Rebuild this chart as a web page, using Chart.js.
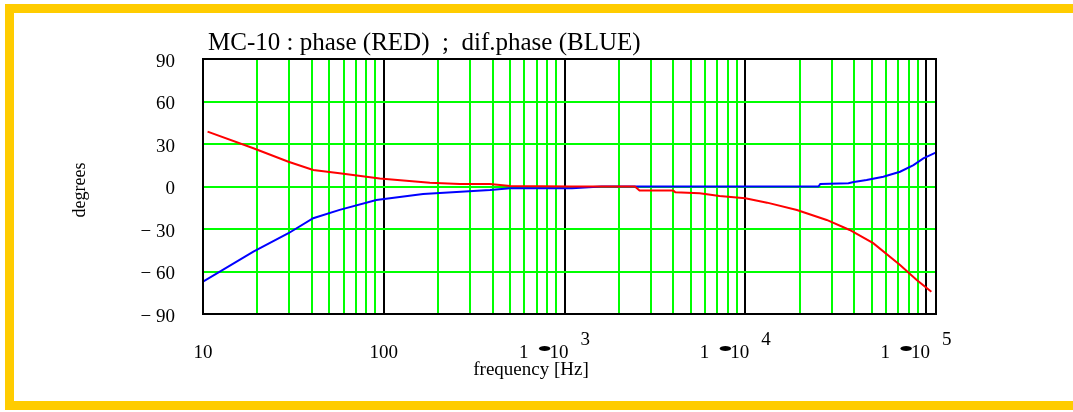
<!DOCTYPE html>
<html>
<head>
<meta charset="utf-8">
<script src="https://cdn.jsdelivr.net/npm/chart.js@4.4.1/dist/chart.umd.min.js"></script>
<style>
    html, body { margin: 0; padding: 0; background: #fff; }
    #wrap { width: 1073px; height: 412px; }
</style>
</head>
<body>
<div id="wrap"><canvas id="phaseChart" width="1073" height="412"></canvas></div>
<script>
// ========================================
// DADOS
// ========================================

// phase (RED)
const phaseFreq = [10.6, 19, 29.7, 40.7, 57, 95, 180, 264, 387, 500, 1100, 2450, 2600, 4000, 4100, 5600, 7200, 10000, 13200, 19300, 28200, 37800, 51000, 71800, 88800, 107000];
const phaseDeg  = [38.7, 27, 17.5, 11.6, 9.3, 5.7, 2.6, 1.8, 1.8, 0.3, 0, 0, -2.9, -2.9, -4, -4.8, -6.7, -8.3, -11.4, -16.6, -23.6, -30.7, -40, -55.4, -66, -74.3];

// dif.phase (BLUE)
const difFreq = [10, 19, 29.7, 40.7, 57, 91, 165, 387, 500, 1100, 1600, 25400, 26000, 37200, 39800, 46900, 58000, 71800, 85200, 96600, 113000];
const difDeg  = [-67.2, -46, -33, -22.4, -16.5, -9.5, -5.3, -2.5, -1.3, -1.3, 0, 0, 1.8, 2.3, 3.2, 4.6, 6.9, 10.4, 15.1, 19.9, 23.9];

// Eixos
const yTicks = [90, 60, 30, 0, -30, -60, -90];
const decades = [10, 100, 1000, 10000, 100000];
const xMin = 10;
const xMax = 113500;

const SERIF = '"Liberation Serif", "DejaVu Serif", serif';

// Linhas de grade: 1..9 x cada década
const gridFreqs = [];
decades.slice(0, -1).forEach(d => {
    for (let m = 1; m <= 9; m++) gridFreqs.push(m * d);
});
gridFreqs.push(decades[decades.length - 1]);

const isDecade = (v) => Math.abs(Math.log10(v) - Math.round(Math.log10(v))) < 1e-9;
const toPoints = (xs, ys) => xs.map((x, i) => ({ x, y: ys[i] }));

// Moldura amarela, borda preta, títulos e rótulos do eixo x
const framePlugin = {
    id: 'frame',
    beforeDraw(chart) {
        const c = chart.ctx;
        c.save();
        c.fillStyle = '#fff';
        c.fillRect(0, 0, chart.width, chart.height);
        c.fillStyle = '#ffcc00';
        c.fillRect(5, 4, chart.width - 5, 9);
        c.fillRect(5, 4, 9, 406);
        c.fillRect(5, 401, chart.width - 5, 9);
        c.restore();
    },
    afterDraw(chart) {
        const { ctx: c, chartArea: a, scales } = chart;
        c.save();
        c.strokeStyle = '#000';
        c.lineWidth = 2;
        c.strokeRect(a.left, a.top, a.right - a.left, a.bottom - a.top);

        c.fillStyle = '#000';
        c.textBaseline = 'alphabetic';

        // título
        c.textAlign = 'left';
        c.font = `25px ${SERIF}`;
        c.fillText('MC-10 : phase (RED)  ;  dif.phase (BLUE)', 208, 50);

        // rótulos do eixo x
        c.font = `19px ${SERIF}`;
        decades.forEach(v => {
            const px = scales.x.getPixelForValue(v);
            const exp = Math.round(Math.log10(v));
            if (exp < 3) {
                c.textAlign = 'center';
                c.fillText(String(v), px, 358);
                return;
            }
            c.textAlign = 'right';
            c.fillText('1', px - 36, 358);
            c.textAlign = 'left';
            c.fillText('10', px - 15, 358);
            c.fillText(String(exp), px + 16, 345);
            // ponto de multiplicação
            c.save();
            c.translate(px - 20, 356);
            c.scale(2.4, 1.1);
            c.textAlign = 'center';
            c.font = `20px ${SERIF}`;
            c.fillText('\u2022', 0, 0);
            c.restore();
        });

        // título do eixo x
        c.textAlign = 'center';
        c.font = `19px ${SERIF}`;
        c.fillText('frequency [Hz]', 531, 375);

        // título do eixo y
        c.translate(80, 190);
        c.rotate(-Math.PI / 2);
        c.textBaseline = 'middle';
        c.font = `18px ${SERIF}`;
        c.fillText('degrees', 0, 0);
        c.restore();
    }
};

const ctx = document.getElementById('phaseChart');
const phaseChart = new Chart(ctx, {
    type: 'line',
    data: {
        datasets: [
            {
                label: 'phase',
                data: toPoints(phaseFreq, phaseDeg),
                borderColor: '#ff0000',
                borderWidth: 2,
                pointRadius: 0,
                tension: 0,
                fill: false
            },
            {
                label: 'dif.phase',
                data: toPoints(difFreq, difDeg),
                borderColor: '#0000ff',
                borderWidth: 2,
                pointRadius: 0,
                tension: 0,
                fill: false
            }
        ]
    },
    options: {
        responsive: false,
        devicePixelRatio: 1,
        animation: false,
        layout: { padding: { left: 0, top: 59, right: 137, bottom: 0 } },
        plugins: {
            legend: { display: false },
            title: { display: false },
            tooltip: { enabled: false }
        },
        scales: {
            x: {
                type: 'logarithmic',
                min: xMin,
                max: xMax,
                afterBuildTicks: s => { s.ticks = gridFreqs.map(v => ({ value: v })); },
                afterFit: s => { s.height = 98; },
                ticks: { display: false },
                grid: {
                    color: c => (c.tick && isDecade(c.tick.value)) ? '#000' : '#00ff00',
                    lineWidth: 2,
                    drawTicks: false
                },
                border: { display: false }
            },
            y: {
                min: -90,
                max: 90,
                afterBuildTicks: s => { s.ticks = yTicks.map(v => ({ value: v })); },
                afterFit: s => { s.width = 203; },
                ticks: {
                    callback: v => v < 0 ? '\u2212 ' + Math.abs(v) : String(v),
                    font: { family: SERIF, size: 19 },
                    color: '#000',
                    padding: 28,
                    labelOffset: 3
                },
                grid: { color: '#00ff00', lineWidth: 2, drawTicks: false },
                border: { display: false }
            }
        }
    },
    plugins: [framePlugin]
});
</script>
</body>
</html>
